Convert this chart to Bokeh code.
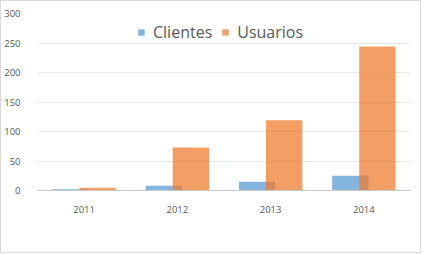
from bokeh.plotting import figure
from bokeh.models import FactorRange, Legend, LegendItem, ColumnDataSource, FixedTicker
from bokeh.transform import dodge
from bokeh.embed import file_html
from bokeh.resources import INLINE

years = ["2011", "2012", "2013", "2014"]
clientes = [2, 8, 15, 25]
usuarios = [4.5, 73, 119, 244]
y_ticks = [0, 50, 100, 150, 200, 250, 300]

src = ColumnDataSource(dict(years=years, clientes=clientes, usuarios=usuarios))

p = figure(x_range=FactorRange(*years, range_padding=0), y_range=(0, 300),
           width=421, height=253, output_backend="svg", toolbar_location=None,
           min_border_left=33, min_border_right=12, min_border_top=12, min_border_bottom=64)
p.styles = {"border": "1px solid #d9d9d9"}
p.outline_line_color = None
p.background_fill_color = "white"
p.border_fill_color = "white"

r1 = p.vbar(x=dodge("years", -0.145, range=p.x_range), top="clientes", width=0.39,
            source=src, fill_color="#5B9BD5", fill_alpha=0.75, line_color=None)
r2 = p.vbar(x=dodge("years", 0.145, range=p.x_range), top="usuarios", width=0.39,
            source=src, fill_color="#ED7D31", fill_alpha=0.75, line_color=None)

p.yaxis.ticker = FixedTicker(ticks=y_ticks)
p.yaxis.axis_line_color = None
p.yaxis.major_tick_line_color = None
p.yaxis.minor_tick_line_color = None
p.yaxis.major_label_standoff = 11
p.xaxis.axis_line_color = "#c8c8c8"
p.xaxis.major_tick_line_color = None
p.xaxis.minor_tick_line_color = None
p.xaxis.major_label_standoff = 9
for ax in (p.xaxis, p.yaxis):
    ax.major_label_text_font = "Open Sans"
    ax.major_label_text_font_size = "9.5px"
    ax.major_label_text_color = "#595959"

p.xgrid.grid_line_color = None
p.ygrid.grid_line_color = "#e9e9e9"

legend = Legend(items=[LegendItem(label="Clientes", renderers=[r1]),
                       LegendItem(label="Usuarios", renderers=[r2])],
                orientation="horizontal", location=(100, 147),
                padding=0, margin=0, spacing=9, label_standoff=8,
                glyph_width=8, glyph_height=8, label_height=18,
                label_text_font="Open Sans", label_text_font_size="16px",
                label_text_color="#595959",
                background_fill_alpha=0, border_line_alpha=0)
p.add_layout(legend, "center")

open("out.html", "w").write(file_html(p, INLINE))
